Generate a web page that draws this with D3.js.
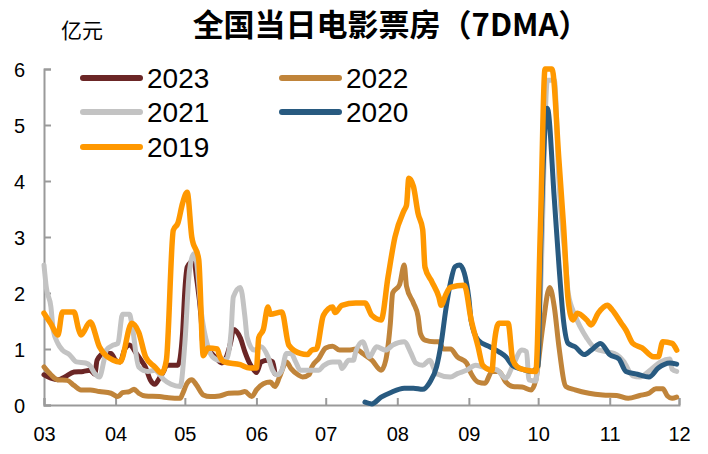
<!DOCTYPE html>
<html><head><meta charset="utf-8">
<script src="https://cdn.jsdelivr.net/npm/d3@7/dist/d3.min.js"></script>
<style>
body{margin:0;background:#fff;}
svg{display:block;font-family:"Liberation Sans",Arial,sans-serif;}
</style></head>
<body><svg id="chart" width="708" height="454"></svg>
<script>
// Daily box office, 7-day moving average (亿元), by month-day
const title = "全国当日电影票房（7DMA）";
const unitLabel = "亿元";
const yTicks = [0,1,2,3,4,5,6];
const xTickLabels = ["03","04","05","06","07","08","09","10","11","12"];

const s2023 = [["03-01",0.54],["03-04",0.48],["03-07",0.45],["03-10",0.5],["03-14",0.59],["03-18",0.6],["03-21",0.62],["03-23",0.55],["03-24",0.8],["03-27",0.92],["03-30",0.92],["04-01",0.8],["04-03",0.77],["04-05",1.0],["04-07",1.07],["04-10",0.92],["04-12",0.8],["04-14",0.67],["04-16",0.45],["04-18",0.37],["04-20",0.48],["04-22",0.62],["04-23",0.71],["04-28",0.71],["04-30",1.28],["05-01",2.05],["05-02",2.46],["05-05",2.58],["05-06",2.29],["05-08",1.58],["05-09",1.0],["05-11",0.98],["05-14",0.86],["05-17",0.75],["05-19",0.86],["05-21",1.15],["05-22",1.35],["05-25",1.2],["05-27",0.95],["05-29",0.75],["05-31",0.62],["06-01",0.58],["06-03",0.77],["06-06",0.8],["06-08",0.77],["06-09",0.56]];

const s2022 = [["03-01",0.68],["03-04",0.54],["03-07",0.45],["03-11",0.44],["03-14",0.35],["03-17",0.27],["03-21",0.27],["03-25",0.24],["03-30",0.21],["04-02",0.15],["04-04",0.22],["04-07",0.24],["04-09",0.28],["04-11",0.21],["04-14",0.16],["04-20",0.15],["04-24",0.13],["04-29",0.12],["04-30",0.2],["05-02",0.39],["05-04",0.45],["05-06",0.36],["05-09",0.18],["05-12",0.15],["05-16",0.16],["05-20",0.21],["05-25",0.22],["05-27",0.24],["05-30",0.15],["06-01",0.27],["06-04",0.38],["06-07",0.41],["06-09",0.33],["06-11",0.5],["06-14",0.77],["06-16",0.65],["06-19",0.54],["06-21",0.5],["06-24",0.55],["06-25",0.68],["06-28",0.83],["07-01",1.02],["07-04",1.05],["07-07",0.98],["07-11",0.98],["07-14",1.0],["07-17",0.92],["07-21",0.8],["07-25",0.62],["07-27",0.8],["07-29",1.46],["07-30",2.0],["08-02",2.15],["08-04",2.5],["08-05",2.12],["08-08",1.82],["08-10",1.58],["08-11",1.28],["08-13",1.16],["08-17",1.13],["08-19",1.13],["08-21",1.0],["08-24",1.0],["08-27",0.86],["08-31",0.75],["09-02",0.56],["09-05",0.41],["09-08",0.39],["09-11",0.6],["09-14",0.6],["09-17",0.41],["09-20",0.33],["09-24",0.32],["09-28",0.27],["09-30",0.45],["10-03",1.4],["10-06",2.1],["10-08",1.75],["10-10",1.04],["10-13",0.33],["10-17",0.27],["10-23",0.21],["10-29",0.18],["11-04",0.17],["11-09",0.12],["11-14",0.17],["11-18",0.21],["11-21",0.29],["11-24",0.29],["11-26",0.16],["11-28",0.12],["11-30",0.14]];

const s2021 = [["03-01",2.5],["03-02",2.1],["03-04",1.75],["03-05",1.34],["03-07",1.1],["03-09",0.98],["03-12",0.9],["03-15",0.77],["03-19",0.75],["03-21",0.7],["03-23",0.56],["03-25",0.5],["03-27",0.8],["03-28",0.98],["03-31",1.07],["04-02",1.1],["04-04",1.62],["04-07",1.62],["04-08",1.46],["04-11",0.68],["04-15",0.6],["04-18",0.62],["04-20",0.55],["04-22",0.45],["04-25",0.37],["04-29",0.33],["05-01",1.1],["05-03",2.4],["05-05",2.7],["05-06",2.58],["05-08",1.7],["05-11",1.04],["05-13",0.86],["05-16",0.8],["05-19",0.82],["05-21",1.3],["05-22",1.93],["05-25",2.1],["05-27",1.58],["05-28",1.2],["05-31",0.98],["06-03",1.04],["06-06",0.86],["06-08",0.62],["06-10",0.54],["06-12",0.62],["06-14",0.92],["06-16",0.92],["06-18",0.77],["06-20",0.62],["06-28",0.62],["06-30",0.7],["07-04",0.77],["07-07",0.77],["07-08",0.65],["07-11",0.8],["07-13",0.8],["07-14",0.95],["07-17",1.13],["07-20",0.86],["07-23",1.04],["07-27",0.98],["07-30",1.07],["08-04",1.13],["08-07",0.92],["08-09",0.75],["08-12",0.71],["08-15",0.8],["08-18",0.56],["08-24",0.5],["08-27",0.56],["08-31",0.62],["09-04",0.71],["09-09",0.65],["09-13",0.63],["09-17",0.48],["09-20",0.7],["09-24",0.98],["09-26",0.95],["09-27",0.45],["09-30",0.43],["10-02",2.0],["10-05",5.8],["10-08",5.8],["10-10",4.0],["10-13",2.5],["10-14",2.0],["10-17",1.6],["10-22",1.2],["10-26",1.0],["10-31",0.95],["11-04",0.9],["11-07",0.78],["11-11",0.52],["11-14",0.5],["11-19",0.64],["11-23",0.77],["11-27",0.82],["11-28",0.64],["11-30",0.6]];

const s2020 = [["07-18",0.05],["07-21",0.02],["07-25",0.14],["07-29",0.22],["08-04",0.3],["08-08",0.3],["08-12",0.28],["08-15",0.4],["08-18",0.68],["08-20",1.1],["08-22",1.7],["08-24",2.18],["08-26",2.47],["08-28",2.5],["08-30",2.36],["09-01",1.9],["09-02",1.5],["09-05",1.16],["09-10",1.04],["09-14",0.95],["09-17",0.86],["09-20",0.7],["09-24",0.64],["09-28",0.6],["10-01",0.7],["10-02",2.6],["10-05",5.3],["10-08",3.68],["10-10",2.5],["10-12",1.5],["10-14",1.1],["10-17",1.04],["10-21",0.9],["10-24",0.98],["10-28",1.1],["11-01",0.9],["11-05",0.82],["11-08",0.6],["11-13",0.55],["11-18",0.5],["11-22",0.66],["11-27",0.75],["11-30",0.73]];

const s2019 = [["03-01",1.64],["03-04",1.45],["03-07",1.25],["03-09",1.66],["03-14",1.66],["03-16",1.35],["03-17",1.25],["03-21",1.48],["03-25",1.04],["03-31",0.8],["04-03",0.77],["04-08",1.46],["04-11",1.3],["04-14",0.86],["04-18",0.68],["04-21",0.57],["04-23",0.8],["04-26",3.12],["04-28",3.25],["04-30",3.6],["05-02",3.8],["05-04",3.0],["05-07",2.6],["05-09",0.88],["05-11",1.02],["05-15",1.0],["05-16",0.88],["05-18",0.77],["05-25",0.72],["05-29",0.66],["06-01",0.66],["06-02",1.2],["06-04",1.35],["06-06",1.75],["06-07",1.62],["06-12",1.66],["06-15",1.07],["06-20",0.92],["06-23",0.9],["06-25",0.98],["06-27",1.0],["06-30",1.6],["07-04",1.75],["07-05",1.65],["07-08",1.78],["07-14",1.82],["07-18",1.82],["07-21",1.6],["07-25",1.52],["07-28",2.29],["07-31",3.0],["08-04",3.48],["08-05",3.57],["08-06",4.05],["08-08",3.9],["08-10",3.42],["08-12",3.13],["08-13",2.46],["08-16",2.2],["08-19",1.93],["08-20",1.78],["08-22",1.97],["08-24",2.1],["08-30",2.14],["09-02",1.52],["09-05",1.04],["09-07",0.71],["09-11",0.62],["09-12",1.1],["09-14",1.46],["09-18",1.46],["09-20",0.8],["09-22",0.68],["09-26",0.62],["09-30",0.6],["10-02",3.2],["10-04",6.0],["10-07",6.0],["10-10",4.37],["10-12",3.2],["10-14",1.87],["10-16",1.52],["10-18",1.64],["10-22",1.52],["10-24",1.43],["10-27",1.64],["10-31",1.78],["11-02",1.7],["11-06",1.46],["11-08",1.34],["11-11",1.1],["11-15",1.02],["11-20",0.86],["11-22",0.86],["11-24",1.13],["11-28",1.1],["11-30",0.98]];

const seriesNames = ["2023","2022","2021","2020","2019"];
const seriesData = [s2023, s2022, s2021, s2020, s2019];
const seriesColors = ["#6B2626","#C0843A","#C3C3C3","#285A80","#FF9800"];

const svg = d3.select("#chart");
const parse = d3.timeParse("%Y-%m-%d");
const toDate = md => parse("2019-" + md);
const x = d3.scaleTime().domain([toDate("03-01"), toDate("12-01")]).range([44, 679]);
const y = d3.scaleLinear().domain([0, 6]).range([405, 69]);

// Title and unit
svg.append("text").attr("x", 391).attr("y", 36).attr("text-anchor", "middle")
  .style("font-family", "'Noto Sans CJK SC', 'Liberation Sans', sans-serif")
  .style("font-weight", "bold").style("font-size", "31px").attr("fill", "#000").text(title);
svg.append("text").attr("x", 61).attr("y", 38)
  .style("font-family", "'Noto Sans CJK SC', sans-serif")
  .style("font-size", "21px").attr("fill", "#000").text(unitLabel);

// Axes
const axisColor = "#9A9A9A";
const yAxis = svg.append("g").attr("transform", "translate(44,0)")
  .call(d3.axisLeft(y).tickValues(yTicks).tickSize(-7).tickPadding(19).tickFormat(d3.format("d")));
const xMonths = xTickLabels.map(m => toDate(m + "-01"));
const xAxis = svg.append("g").attr("transform", "translate(0,405)")
  .call(d3.axisBottom(x).tickValues(xMonths).tickSize(-7).tickPadding(22).tickFormat(d3.timeFormat("%m")));
[yAxis, xAxis].forEach(g => {
  g.select(".domain").attr("stroke", axisColor).attr("stroke-width", 2);
  g.selectAll(".tick line").attr("stroke", axisColor).attr("stroke-width", 2);
  g.selectAll(".tick text").attr("fill", "#000").style("font-size", "20px")
    .style("font-family", "'Liberation Sans', Arial, sans-serif");
});
yAxis.selectAll(".tick text").attr("dy", "0.35em");
xAxis.selectAll(".tick text").attr("dy", "0.71em");

// Lines
const line = d3.line().x(d => x(toDate(d[0]))).y(d => y(d[1])).curve(d3.curveMonotoneX);
seriesData.forEach((s, i) => {
  svg.append("path").datum(s).attr("d", line).attr("fill", "none")
    .attr("stroke", seriesColors[i]).attr("stroke-width", i === 4 ? 5.5 : 5)
    .attr("stroke-linejoin", "round").attr("stroke-linecap", "round");
});

// Legend
const legendPos = [[80,78],[279,78],[80,112],[279,112],[80,147]];
seriesNames.forEach((n, i) => {
  const [lx, ly] = legendPos[i];
  svg.append("line").attr("x1", lx + 3).attr("x2", lx + 60).attr("y1", ly).attr("y2", ly)
    .attr("stroke", seriesColors[i]).attr("stroke-width", 6).attr("stroke-linecap", "round");
  svg.append("text").attr("x", lx + 67).attr("y", ly + 10).style("font-size", "28px")
    .attr("fill", "#000").text(n);
});
</script></body></html>
